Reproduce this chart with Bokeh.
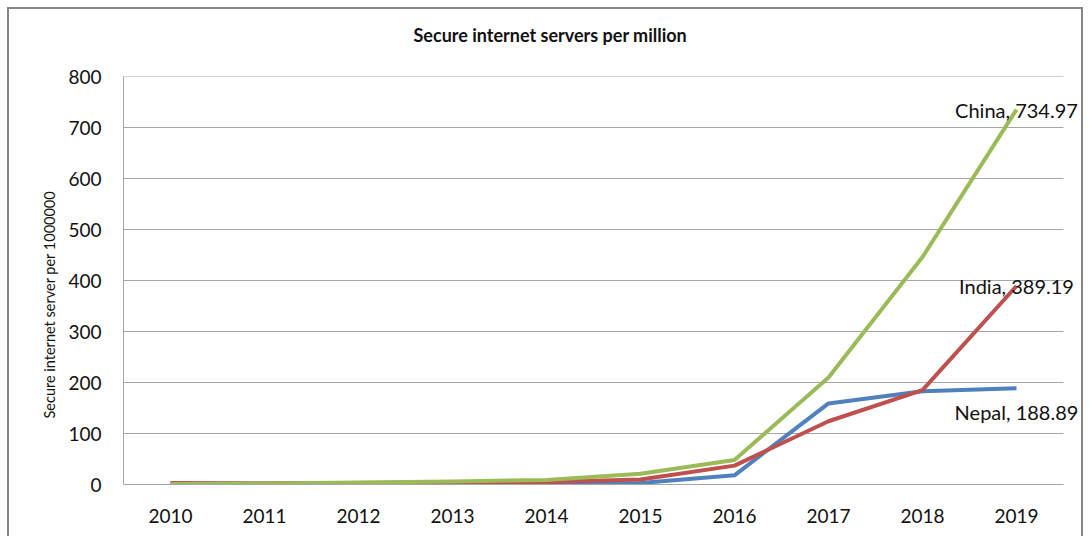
import math
from bokeh.plotting import figure
from bokeh.models import ColumnDataSource, Range1d, FixedTicker, LabelSet, Title
from bokeh.core.properties import value
from bokeh.embed import file_html
from bokeh.resources import INLINE

years = ["2010", "2011", "2012", "2013", "2014", "2015", "2016", "2017", "2018", "2019"]
nepal = [0.5, 0.6, 0.8, 1.0, 1.5, 3.0, 18.0, 159.0, 183.0, 188.89]
india = [3.0, 2.5, 3.0, 4.0, 5.0, 10.0, 37.0, 124.0, 185.0, 389.19]
china = [1.0, 2.0, 4.0, 6.0, 9.0, 21.0, 48.0, 210.0, 446.0, 734.97]
y_ticks = [0, 100, 200, 300, 400, 500, 600, 700, 800]

series_names = ["Nepal", "India", "China"]
series_values = [nepal, india, china]
series_colors = ["#4F81BD", "#C0504D", "#9BBB59"]
label_offsets = [24, 0, 0]

FONT = "Lato"
GRID = "#a6a6a6"

x_idx = list(range(len(years)))
x_lo, x_hi = -0.5, len(years) - 0.5

p = figure(width=1076, height=529, x_range=Range1d(x_lo, x_hi + 22 / 94),
           y_range=Range1d(0, 800), output_backend="svg", toolbar_location=None,
           min_border_left=114, min_border_right=0, min_border_top=67, min_border_bottom=54,
           styles={"margin-left": "7px", "margin-top": "7px",
                   "border-left": "2px solid #878787", "border-top": "2px solid #878787",
                   "border-right": "2px solid #878787"})
p.outline_line_color = None
p.background_fill_color = "white"
p.border_fill_color = "white"

p.title.text = "Secure internet servers per million"
p.title.align = "left"
p.title.offset = 290
p.title.text_font = FONT
p.title.text_font_style = "bold"
p.title.text_font_size = "18px"
p.title.text_color = "#111111"

# spacer between frame and title
p.add_layout(Title(text=" ", text_font_size="12px"), "above")

p.add_layout(Title(text="Secure internet server per 1000000", align="left", offset=66,
                   standoff=16, text_font=FONT, text_font_style="normal",
                   text_font_size="14.5px", text_color="#111111"), "left")

p.xgrid.grid_line_color = None
p.ygrid.grid_line_color = None
p.segment(x0=[x_lo] * len(y_ticks), x1=[x_hi] * len(y_ticks), y0=y_ticks, y1=y_ticks,
          line_color=GRID, line_width=1)

p.yaxis.ticker = FixedTicker(ticks=y_ticks)
p.yaxis.axis_line_color = GRID
p.yaxis.major_tick_line_color = None
p.yaxis.minor_tick_line_color = None
p.yaxis.major_label_text_font = FONT
p.yaxis.major_label_text_font_size = "19px"
p.yaxis.major_label_text_color = "#111111"
p.yaxis.major_label_standoff = 16

p.xaxis.ticker = FixedTicker(ticks=x_idx)
p.xaxis.major_label_overrides = {i: y for i, y in zip(x_idx, years)}
p.xaxis.bounds = (x_lo, x_hi)
p.xaxis.axis_line_color = GRID
p.xaxis.major_tick_line_color = None
p.xaxis.minor_tick_line_color = None
p.xaxis.major_label_text_font = FONT
p.xaxis.major_label_text_font_size = "19px"
p.xaxis.major_label_text_color = "#111111"
p.xaxis.major_label_standoff = 18

for name, vals, col in zip(series_names, series_values, series_colors):
    p.line(x=x_idx, y=vals, line_color=col, line_width=4, line_join="round")

lab_src = ColumnDataSource(dict(
    x=[x_idx[-1]] * 3,
    y=[v[-1] for v in series_values],
    text=[f"{n}, {v[-1]:.2f}" for n, v in zip(series_names, series_values)],
    yoff=[-o for o in label_offsets],
))
p.add_layout(LabelSet(x="x", y="y", text="text", source=lab_src, y_offset="yoff",
                      text_align="center", text_baseline="middle", text_font=value(FONT),
                      text_font_size=value("20px"), text_color=value("#111111")))

open("out.html", "w").write(file_html(p, INLINE))
